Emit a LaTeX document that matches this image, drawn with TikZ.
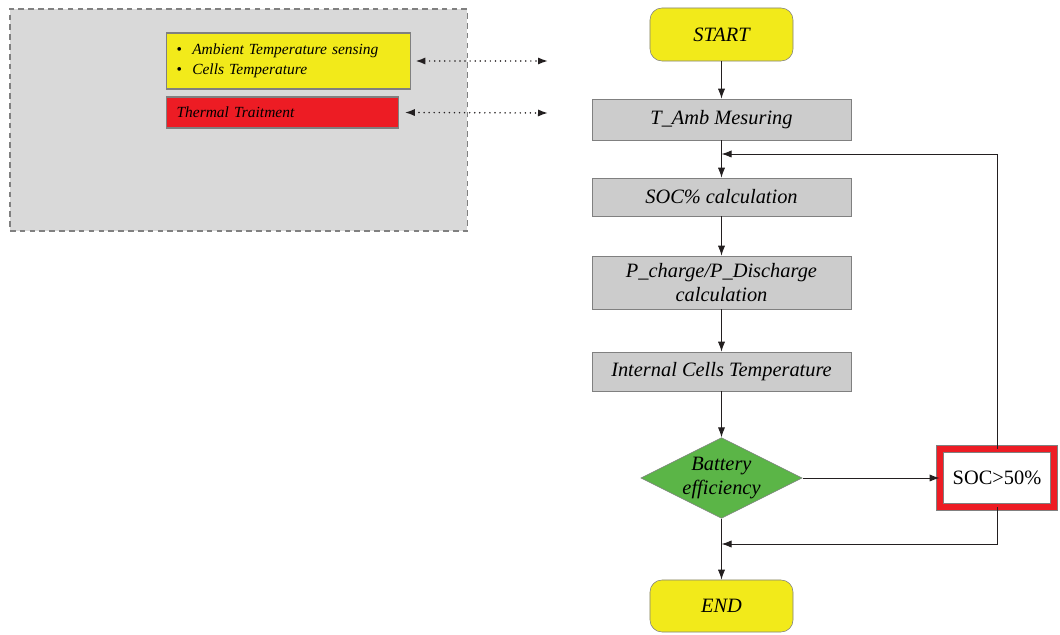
\documentclass[tikz,border=0pt]{standalone}
\usepackage{fontspec}
\setmainfont{Liberation Serif}
\usetikzlibrary{shapes.geometric,arrows.meta}
\definecolor{boxgray}{HTML}{CCCCCC}
\definecolor{panelgray}{HTML}{D9D9D9}
\definecolor{termyellow}{HTML}{F2EA1A}
\definecolor{alarmred}{HTML}{ED1C24}
\definecolor{okgreen}{HTML}{5BB547}
\definecolor{linegray}{HTML}{231F20}
\begin{document}
\begin{tikzpicture}[x=0.025cm, y=-0.025cm, >={Latex[length=2.5mm,width=1.8mm]},
    font=\fontsize{14.5}{17}\selectfont\itshape,
    proc/.style={draw=gray, fill=boxgray, align=center, minimum width=6.475cm, inner sep=2pt},
    term/.style={draw=gray, fill=termyellow, rounded corners=0.3cm, minimum width=3.575cm, minimum height=1.325cm},
    test/.style={diamond, aspect=2, draw=gray, fill=okgreen, align=center, minimum width=4.025cm, minimum height=1.95cm, inner sep=0pt},
    info/.style={draw=gray, line width=0.8pt, anchor=west, align=left, font=\fontsize{11}{14.5}\selectfont\itshape},
    flow/.style={->, draw=linegray, line width=0.7pt},
    link/.style={<->, draw=linegray, line cap=round, dash pattern=on 0pt off 3.6pt, line width=1.2pt}]
    \useasboundingbox (0,0) rectangle (1060,635);
    % left panel
    \node[draw=gray, dash pattern=on 4pt off 3pt, line width=0.8pt, fill=panelgray, minimum width=11.425cm, minimum height=5.55cm] (panel) at (238.5,120) {};
    \node[info, fill=termyellow, minimum width=6.1cm, minimum height=1.4cm, text width=5.6cm, inner sep=0.25cm] (sense) at (166,61)
      {\textup{\textbullet}\ \ Ambient Temperature sensing\\\textup{\textbullet}\ \ Cells Temperature};
    \node[info, fill=alarmred, minimum width=5.8cm, minimum height=0.675cm, text width=5.3cm, inner sep=0.25cm] (treat) at (166,112.5) {Thermal Traitment};
    \coordinate (senseend) at (548,61);
    \coordinate (treatend) at (548,113);
    \draw[link] ([xshift=3pt]sense.east) -- (senseend);
    \draw[link] ([xshift=4pt]treat.east) -- (treatend);
    % flowchart
    \node[term] (start) at (721.5,34.5) {START};
    \node[proc, minimum height=1.025cm] (amb) at (721.5,119.5) {T\_Amb Mesuring};
    \node[proc, minimum height=0.95cm] (soc) at (721.5,197) {SOC\% calculation};
    \node[proc, minimum height=1.325cm] (pwr) at (721.5,282.5) {P\_charge/P\_Discharge\\calculation};
    \node[proc, minimum height=0.975cm] (cells) at (721.5,371.5) {Internal Cells Temperature};
    \node[test] (eff) at (721.5,478) {Battery\\efficiency};
    \node[term, minimum height=1.3cm] (end) at (721.5,606) {END};
    \node[draw=gray, line width=0.6pt, double=alarmred, double distance=0.14cm, fill=white, font=\fontsize{14.5}{17}\selectfont\upshape,
      minimum width=2.85cm, minimum height=1.45cm] (limit) at (997,478) {SOC>50\%};
    \coordinate (loopin) at (721.5,154);
    \coordinate (loopout) at (721.5,544);
    \draw[flow] (start) -- (amb);
    \draw[flow] (amb) -- (soc);
    \draw[flow] (soc) -- (pwr);
    \draw[flow] (pwr) -- (cells);
    \draw[flow] (cells) -- (eff);
    \draw[flow] (eff) -- (end);
    \draw[flow] (eff) -- (limit);
    \draw[flow] (limit.north) |- (loopin);
    \draw[flow] (limit.south) |- (loopout);
\end{tikzpicture}
\end{document}
